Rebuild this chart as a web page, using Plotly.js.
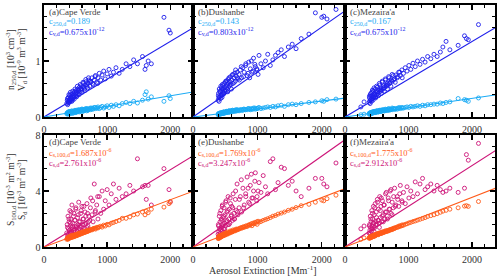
<!DOCTYPE html>
<html><head><meta charset="utf-8">
<script src="https://cdn.plot.ly/plotly-3.0.1.min.js"></script>
<style>html,body{margin:0;padding:0;background:#fff}#plot{width:500px;height:279px}</style>
</head><body><div id="plot"></div>
<script>
// ---------- data ----------
const sites = ["Cape Verde", "Dushanbe", "Mezaira'a"];
const panelLettersTop = ["(a)", "(b)", "(c)"];
const panelLettersBot = ["(d)", "(e)", "(f)"];

// Aerosol extinction [Mm-1] per observation
const xA = [360,368,375,380,386,392,398,404,410,416,422,428,435,442,450,457,464,472,480,488,496,505,514,523,532,541,550,560,570,580,590,600,612,625,638,650,665,680,695,710,
  725,742,760,778,796,815,835,855,876,898,920,945,970,1000,1030,1065,1100,1140,1190,1240,
  1300,1360,1420,1480,1560,1600,1620,1650,1700,1900,1980,2000,
  372,383,395,407,418,430,441,453,466,478,491,503,517,529,544,557,573,586,603,618,632,647,662,676,690,705,735,770,810,850];
const vA = [0.24,0.30,0.22,0.28,0.35,0.26,0.31,0.38,0.27,0.33,0.29,0.40,0.32,0.36,0.30,0.42,0.34,0.38,0.45,0.36,0.41,0.47,0.39,0.44,0.50,0.42,0.48,0.53,0.45,0.51,0.56,0.48,0.54,0.60,0.50,0.57,0.63,0.55,0.60,0.66,
  0.55,0.62,0.70,0.58,0.66,0.74,0.62,0.70,0.78,0.66,0.75,0.82,0.68,0.77,0.85,0.73,0.80,0.88,0.78,0.85,
  0.95,0.90,1.02,0.95,1.08,0.85,0.92,1.00,0.95,1.78,1.55,1.50,
  0.33,0.25,0.40,0.30,0.44,0.35,0.28,0.46,0.38,0.32,0.50,0.43,0.36,0.55,0.47,0.40,0.58,0.50,0.44,0.62,0.53,0.47,0.67,0.58,0.52,0.70,0.64,0.60,0.72,0.60];
const nA = [0.06,0.07,0.05,0.08,0.07,0.06,0.09,0.07,0.08,0.06,0.09,0.08,0.07,0.10,0.08,0.09,0.07,0.10,0.09,0.11,0.08,0.10,0.12,0.09,0.11,0.10,0.12,0.11,0.13,0.10,0.12,0.14,0.11,0.13,0.12,0.14,0.13,0.15,0.12,0.14,
  0.15,0.13,0.16,0.14,0.17,0.15,0.16,0.18,0.15,0.17,0.19,0.16,0.18,0.20,0.17,0.21,0.19,0.22,0.20,0.24,
  0.26,0.24,0.28,0.25,0.30,0.40,0.45,0.32,0.36,0.28,0.38,0.33,
  0.08,0.06,0.10,0.07,0.09,0.08,0.11,0.07,0.10,0.09,0.12,0.08,0.11,0.10,0.13,0.09,0.12,0.11,0.14,0.10,0.13,0.12,0.15,0.11,0.14,0.13,0.16,0.15,0.17,0.16];
const sA = [1.0,1.6,0.8,2.2,1.3,0.9,1.8,1.2,2.6,1.0,1.5,2.0,1.1,3.0,1.4,1.7,0.9,2.4,1.3,1.9,1.1,2.8,1.5,1.2,2.1,1.6,3.2,1.3,1.8,2.4,1.4,2.9,1.6,2.0,1.3,2.5,1.7,3.1,1.5,2.2,
  1.9,3.5,2.3,1.8,4.5,2.6,3.0,2.0,3.6,2.4,4.0,2.7,3.3,4.1,3.0,3.8,4.5,3.4,4.2,3.6,
  3.8,4.4,4.0,6.3,4.3,4.4,3.4,4.4,3.0,5.6,4.1,3.2,
  1.4,0.7,2.0,1.1,1.7,2.5,1.0,1.5,2.2,1.2,1.9,2.7,1.4,1.1,2.3,1.8,1.5,2.6,1.2,2.0,2.9,1.6,2.2,1.4,2.4,1.8,2.8,3.3,2.5,3.6];
const s100A = [0.55,0.62,0.58,0.70,0.60,0.66,0.72,0.64,0.76,0.68,0.72,0.80,0.70,0.84,0.74,0.78,0.72,0.86,0.80,0.84,0.78,0.90,0.86,0.82,0.94,0.90,0.98,0.92,0.96,1.02,0.98,1.06,1.00,1.10,1.04,1.12,1.08,1.18,1.12,1.20,
  1.18,1.26,1.22,1.30,1.34,1.28,1.40,1.36,1.44,1.48,1.42,1.56,1.50,1.62,1.58,1.70,1.75,1.82,1.90,2.05,
  2.05,2.15,2.30,2.35,2.50,2.30,2.55,2.45,2.70,2.85,3.10,3.25,
  0.60,0.56,0.68,0.64,0.70,0.74,0.68,0.78,0.76,0.74,0.84,0.80,0.82,0.88,0.86,0.92,0.90,0.96,0.98,1.00,1.02,1.06,1.08,1.10,1.14,1.16,1.22,1.28,1.34,1.40];

const xB = [390,396,402,408,414,420,426,432,438,444,450,456,462,468,475,482,489,496,504,512,520,528,536,545,554,563,572,582,592,602,612,623,634,645,657,670,684,698,
  715,735,755,775,795,818,840,865,890,915,940,968,995,1025,1055,1090,1125,1160,1200,1240,1280,1320,
  1370,1420,1480,1540,1600,1680,1800,1900,2000,2030,2080,2220,
  394,405,417,429,441,453,465,478,492,508,524,540,558,577,597,617,640,662,690,720,750,785,820,855,880,905,930,960,990,1010];
const vB = [0.30,0.42,0.34,0.50,0.36,0.45,0.38,0.55,0.40,0.48,0.35,0.58,0.44,0.50,0.41,0.60,0.46,0.53,0.62,0.48,0.56,0.65,0.50,0.60,0.68,0.55,0.63,0.72,0.58,0.66,0.75,0.60,0.70,0.78,0.64,0.73,0.80,0.68,
  0.76,0.84,0.70,0.88,0.80,0.92,0.74,0.98,0.86,0.80,1.05,0.90,0.84,1.10,0.95,0.88,1.00,1.12,0.92,1.02,1.10,1.15,
  1.20,1.08,1.25,1.30,1.22,1.40,1.48,1.86,1.78,1.80,1.75,1.92,
  0.38,0.28,0.46,0.33,0.52,0.39,0.56,0.43,0.47,0.64,0.52,0.45,0.70,0.58,0.50,0.76,0.62,0.84,0.70,0.66,0.90,0.72,0.95,0.78,0.70,1.00,0.82,0.94,0.86,0.76];
const nB = [0.04,0.05,0.06,0.05,0.07,0.06,0.05,0.07,0.06,0.08,0.06,0.07,0.08,0.06,0.09,0.07,0.08,0.07,0.09,0.08,0.10,0.08,0.09,0.10,0.08,0.11,0.09,0.10,0.11,0.09,0.12,0.10,0.11,0.12,0.10,0.13,0.11,0.12,
  0.11,0.13,0.12,0.12,0.14,0.13,0.13,0.15,0.13,0.14,0.16,0.14,0.15,0.17,0.15,0.16,0.17,0.18,0.17,0.19,0.18,0.20,
  0.21,0.19,0.22,0.23,0.22,0.24,0.26,0.27,0.29,0.28,0.31,0.32,
  0.06,0.05,0.07,0.06,0.07,0.08,0.07,0.09,0.08,0.09,0.10,0.09,0.11,0.10,0.11,0.12,0.11,0.12,0.13,0.12,0.13,0.14,0.13,0.15,0.14,0.15,0.14,0.16,0.15,0.16];
const sB = [0.9,1.5,1.1,2.2,1.3,1.8,1.0,2.6,1.4,1.9,1.2,3.0,1.6,2.1,1.3,2.8,1.7,2.3,1.5,3.3,1.8,2.5,1.6,3.6,2.0,2.7,1.7,3.1,2.2,2.9,1.9,3.8,2.4,2.0,3.4,2.6,4.5,2.3,
  2.8,3.6,2.5,4.2,3.0,3.8,5.0,3.2,4.4,3.5,4.0,5.3,3.6,4.6,3.9,5.1,4.3,3.8,6.1,6.3,4.1,4.6,
  5.7,5.6,4.4,4.7,4.0,3.6,4.2,4.9,4.9,4.5,4.3,6.0,
  1.6,0.8,2.4,1.2,2.0,2.9,1.5,2.2,1.3,3.2,1.9,2.6,1.6,3.5,2.3,2.8,2.0,4.0,2.5,3.4,4.8,2.8,3.6,4.2,3.1,5.2,3.5,4.7,3.3,4.0];
const s100B = [0.60,0.72,0.66,0.80,0.70,0.76,0.68,0.84,0.74,0.80,0.76,0.90,0.80,0.86,0.82,0.96,0.88,0.92,0.86,1.02,0.94,0.98,0.92,1.08,1.00,1.04,1.00,1.15,1.06,1.12,1.08,1.22,1.14,1.20,1.16,1.28,1.22,1.26,
  1.28,1.36,1.34,1.42,1.40,1.48,1.46,1.55,1.58,1.52,1.65,1.68,1.62,1.78,1.82,1.90,1.96,2.02,2.10,2.20,2.25,2.35,
  2.42,2.50,2.62,2.70,2.82,2.95,3.05,3.20,3.35,3.30,3.45,3.70,
  0.66,0.62,0.74,0.72,0.78,0.82,0.80,0.88,0.86,0.94,0.96,0.98,1.02,1.06,1.10,1.12,1.18,1.22,1.28,1.32,1.38,1.44,1.50,1.56,1.60,1.66,1.70,1.76,1.80,1.84];

const xC = [250,300,
  380,386,392,398,404,410,416,422,428,434,440,447,454,461,468,476,484,492,500,509,518,527,536,546,556,566,577,588,600,612,625,638,652,666,680,695,710,726,742,760,
  780,800,822,845,870,895,920,948,976,1005,1035,1070,1105,1140,1180,1220,1260,1300,
  1350,1400,1450,1500,1540,1590,1650,1780,1880,1910,1940,2100,
  384,395,407,419,431,444,457,470,482,496,512,526,541,556,571,586,602,618,634,650,668,686,704,722,742,765,790,830,860,900];
const vC = [0.18,0.27,
  0.26,0.34,0.29,0.40,0.31,0.37,0.28,0.44,0.33,0.39,0.30,0.47,0.35,0.42,0.38,0.50,0.36,0.45,0.40,0.53,0.42,0.48,0.44,0.57,0.46,0.52,0.48,0.62,0.50,0.56,0.53,0.66,0.55,0.60,0.58,0.70,0.62,0.66,0.64,0.74,
  0.68,0.75,0.70,0.80,0.74,0.84,0.78,0.88,0.82,0.92,0.85,0.96,0.90,1.00,0.94,1.03,0.98,1.08,
  1.04,1.12,1.08,1.16,1.25,1.35,1.20,1.28,1.45,1.40,1.38,1.65,
  0.37,0.24,0.42,0.32,0.48,0.36,0.52,0.40,0.34,0.55,0.45,0.38,0.60,0.49,0.42,0.64,0.52,0.46,0.68,0.57,0.50,0.72,0.60,0.55,0.76,0.66,0.62,0.72,0.80,0.70];
const nC = [0.04,0.05,
  0.05,0.06,0.07,0.06,0.07,0.08,0.06,0.08,0.07,0.09,0.07,0.08,0.09,0.08,0.10,0.08,0.09,0.10,0.09,0.11,0.09,0.10,0.11,0.10,0.12,0.10,0.11,0.12,0.11,0.13,0.11,0.12,0.13,0.12,0.14,0.12,0.13,0.14,0.13,0.15,
  0.14,0.15,0.14,0.16,0.15,0.17,0.16,0.17,0.18,0.17,0.19,0.18,0.19,0.20,0.19,0.21,0.20,0.22,
  0.22,0.23,0.23,0.25,0.24,0.26,0.27,0.33,0.31,0.30,0.28,0.34,
  0.07,0.05,0.08,0.07,0.09,0.08,0.10,0.09,0.08,0.11,0.10,0.09,0.12,0.11,0.10,0.13,0.12,0.11,0.14,0.13,0.12,0.15,0.14,0.13,0.16,0.15,0.14,0.16,0.17,0.16];
const sC = [1.3,1.5,
  1.0,1.6,1.2,2.2,1.4,1.8,1.1,2.6,1.5,2.0,1.3,2.9,1.7,2.3,1.4,3.1,1.8,2.5,1.6,3.4,1.9,2.7,1.7,3.6,2.1,2.9,1.8,3.3,2.3,3.0,2.0,3.8,2.5,2.2,3.5,2.7,4.0,2.4,3.2,2.8,
  4.2,3.0,3.6,2.9,4.4,3.3,3.9,3.1,4.3,3.5,4.0,3.6,4.65,3.8,4.5,4.9,4.1,4.3,
  4.5,4.0,4.4,4.1,3.9,4.0,4.2,3.9,4.2,6.6,6.2,7.4,
  1.5,0.9,2.0,1.3,2.4,1.7,1.1,2.8,1.6,2.1,3.2,1.9,1.4,2.6,3.5,2.2,1.8,3.0,2.5,3.9,2.0,3.3,2.7,4.1,2.3,3.6,2.9,3.4,3.8,3.2];
const s100C = [0.55,0.65,
  0.62,0.70,0.66,0.76,0.70,0.74,0.68,0.80,0.74,0.78,0.76,0.84,0.80,0.84,0.82,0.90,0.86,0.90,0.88,0.96,0.92,0.96,0.94,1.02,0.98,1.02,1.00,1.08,1.04,1.10,1.08,1.16,1.12,1.16,1.14,1.22,1.20,1.24,1.24,1.30,
  1.32,1.38,1.40,1.44,1.48,1.52,1.56,1.62,1.66,1.72,1.76,1.82,1.86,1.92,1.98,2.04,2.10,2.18,
  2.24,2.30,2.38,2.48,2.56,2.62,2.70,2.80,2.92,2.95,2.90,3.25,
  0.66,0.64,0.72,0.70,0.76,0.78,0.74,0.84,0.82,0.86,0.90,0.88,0.94,0.96,0.98,1.00,1.04,1.06,1.10,1.12,1.16,1.18,1.22,1.26,1.30,1.34,1.38,1.46,1.52,1.58];

// fit coefficients shown in panels
const cN250 = [0.189, 0.143, 0.167];
const cV = [0.675, 0.803, 0.675];
const cS100 = [1.687, 1.769, 1.775];
const cS = [2.761, 3.247, 2.912];
const fitX = [0, 2400];

const xTicks = [0, 1000, 2000];
const yTopTicks = [0, 1, 2];
const yBotTicks = [0, 4, 8];

// ---------- styling ----------
const DARK_BLUE = 'rgb(30,30,235)';
const LIGHT_BLUE = 'rgb(25,170,245)';
const MAGENTA = 'rgb(205,20,120)';
const ORANGE = 'rgb(255,90,25)';
const FONT = 'Liberation Serif';
const TXT = '#333';

const X = [xA, xB, xC];
const V = [vA, vB, vC];
const N = [nA, nB, nC];
const S = [sA, sB, sC];
const S100 = [s100A, s100B, s100C];

const traces = [];
function pts(x, y, color, xa, ya) {
  traces.push({x: x, y: y, type: 'scatter', mode: 'markers', xaxis: xa, yaxis: ya,
    marker: {symbol: 'circle-open', size: 4, color: color, line: {width: 0.9, color: color}},
    hoverinfo: 'skip', showlegend: false, cliponaxis: true});
}
function fit(c, scale, color, xa, ya) {
  traces.push({x: fitX, y: fitX.map(v => v * c * scale), type: 'scatter', mode: 'lines',
    xaxis: xa, yaxis: ya, line: {color: color, width: 1.1}, hoverinfo: 'skip', showlegend: false});
}
for (let i = 0; i < 3; i++) {
  const xt = 'x' + (i === 0 ? '' : (i + 1)), yt = 'y' + (i === 0 ? '' : (i + 1));
  const xb = 'x' + (i + 4), yb = 'y' + (i + 4);
  pts(X[i], V[i], DARK_BLUE, xt, yt);
  pts(X[i], N[i], LIGHT_BLUE, xt, yt);
  fit(cV[i], 1e-3, DARK_BLUE, xt, yt);
  fit(cN250[i], 1e-3, LIGHT_BLUE, xt, yt);
  pts(X[i], S[i], MAGENTA, xb, yb);
  pts(X[i], S100[i], ORANGE, xb, yb);
  fit(cS[i], 1e-3, MAGENTA, xb, yb);
  fit(cS100[i], 1e-3, ORANGE, xb, yb);
}

// pixel helpers (plot area 44..495 x, 5..247 y)
const L = 44, R = 495, T = 5, B = 247;
const px = v => (v - L) / (R - L);
const py = v => (B - v) / (B - T);
const xDom = [[px(44), px(193)], [px(193), px(345)], [px(345), px(495)]];
const yDomTop = [py(117), py(5)];
const yDomBot = [py(247), py(135)];

function xaxis(dom, anchor) {
  return {domain: dom, anchor: anchor, range: [0, 2360], tickvals: xTicks, ticktext: xTicks.map(String),
    ticks: 'inside', ticklen: 5, tickwidth: 1.3, tickcolor: '#000', mirror: 'allticks',
    showline: true, linecolor: '#000', linewidth: 1.6, showgrid: false, zeroline: false,
    minor: {tickvals: [200,400,600,800,1200,1400,1600,1800,2200], ticklen: 3, tickcolor: '#000', ticks: 'inside', showgrid: false},
    tickfont: {family: FONT, size: 10, color: TXT}, ticklabelstandoff: 2};
}
function yaxis(dom, anchor, rng, tv, minorDt, showLabels) {
  return {domain: dom, anchor: anchor, range: rng, tickvals: tv, ticktext: tv.map(String),
    showticklabels: showLabels, ticks: 'inside', ticklen: 5, tickwidth: 1.3, tickcolor: '#000', mirror: 'allticks',
    showline: true, linecolor: '#000', linewidth: 1.6, showgrid: false, zeroline: false,
    minor: {dtick: minorDt, tick0: 0, ticklen: 3, tickcolor: '#000', ticks: 'inside', showgrid: false},
    tickfont: {family: FONT, size: 10, color: TXT}};
}

const layout = {
  width: 500, height: 279, margin: {l: L, r: 500 - R, t: T, b: 279 - B},
  paper_bgcolor: '#fff', plot_bgcolor: '#fff', showlegend: false,
  font: {family: FONT, size: 10, color: TXT},
  annotations: []
};
for (let i = 0; i < 3; i++) {
  const s = i === 0 ? '' : String(i + 1);
  layout['xaxis' + s] = xaxis(xDom[i], 'y' + s);
  layout['yaxis' + s] = yaxis(yDomTop, 'x' + s, [0, 2], yTopTicks, 0.2, i === 0);
  layout['xaxis' + (i + 4)] = xaxis(xDom[i], 'y' + (i + 4));
  layout['yaxis' + (i + 4)] = yaxis(yDomBot, 'x' + (i + 4), [0, 8], yBotTicks, 0.8, i === 0);
}

const leftPx = [47, 196, 348];
function ann(text, xpix, ypix, color, size) {
  layout.annotations.push({text: text, xref: 'paper', yref: 'paper', x: px(xpix), y: py(ypix),
    xanchor: 'left', yanchor: 'middle', showarrow: false, font: {family: FONT, size: size || 8.5, color: color}});
}
for (let i = 0; i < 3; i++) {
  ann(panelLettersTop[i] + sites[i], leftPx[i], 12, '#444', 9);
  ann('c<sub>250,d</sub>=' + cN250[i].toFixed(3), leftPx[i], 22, LIGHT_BLUE, 8.5);
  ann('c<sub>v,d</sub>=' + cV[i].toFixed(3) + 'x10<sup>-12</sup>', leftPx[i], 32, DARK_BLUE, 8.5);
  ann(panelLettersBot[i] + sites[i], leftPx[i], 142, '#444', 9);
  ann('c<sub>s,100,d</sub>=' + cS100[i].toFixed(3) + 'x10<sup>-6</sup>', leftPx[i], 152, ORANGE, 8.5);
  ann('c<sub>s,d</sub>=' + cS[i].toFixed(3) + 'x10<sup>-6</sup>', leftPx[i], 162, MAGENTA, 8.5);
}
// y-axis titles (two rotated lines each)
function ytitle(text, xpix, ypix) {
  layout.annotations.push({text: text, xref: 'paper', yref: 'paper', x: px(xpix), y: py(ypix),
    xanchor: 'center', yanchor: 'middle', textangle: -90, showarrow: false,
    font: {family: FONT, size: 9.5, color: '#333'}});
}
ytitle('n<sub>250,d</sub> [10<sup>3</sup> cm<sup>-3</sup>]', 10, 60);
ytitle('V<sub>d</sub> [10<sup>-9</sup> m<sup>3</sup> m<sup>-3</sup>]', 21, 60);
ytitle('S<sub>100,d</sub> [10<sup>-3</sup> m<sup>2</sup> m<sup>-3</sup>]', 10, 190);
ytitle('S<sub>d</sub> [10<sup>-3</sup> m<sup>2</sup> m<sup>-3</sup>]', 21, 190);
// x-axis title
layout.annotations.push({text: 'Aerosol Extinction [Mm<sup>-1</sup>]', xref: 'paper', yref: 'paper',
  x: px(263), y: py(270), xanchor: 'center', yanchor: 'middle', showarrow: false,
  font: {family: FONT, size: 10, color: '#333'}});

Plotly.newPlot('plot', traces, layout, {staticPlot: true, displayModeBar: false});
</script></body></html>
